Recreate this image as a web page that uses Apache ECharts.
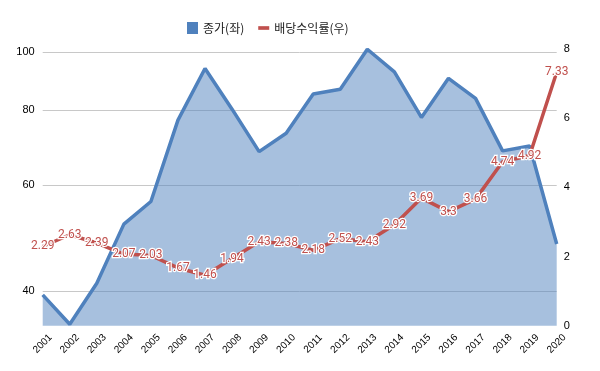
<!DOCTYPE html>
<html><head><meta charset="utf-8">
<script src="https://cdn.jsdelivr.net/npm/echarts@6/dist/echarts.min.js"></script>
<style>html,body{margin:0;padding:0;background:#fff}#c{width:600px;height:371px}</style>
</head><body><div id="c"></div>
<script>
var years = ['2001','2002','2003','2004','2005','2006','2007','2008','2009','2010','2011','2012','2013','2014','2015','2016','2017','2018','2019','2020'];
var closePrice = [39.4,35.2,41.2,51.7,56.4,77.1,94.0,80.4,68.3,73.3,85.2,86.8,101.2,92.8,77.9,90.5,83.8,68.5,69.8,47.9];
var dividendYield = [2.29,2.63,2.39,2.07,2.03,1.67,1.46,1.94,2.43,2.38,2.18,2.52,2.43,2.92,3.69,3.3,3.66,4.74,4.92,7.33];
var leftTicks = [40,60,80,100];
var seriesNames = ['종가(좌)','배당수익률(우)'];

var chart = echarts.init(document.getElementById('c'));
chart.setOption({
  animation:false,
  textStyle:{fontFamily:'Liberation Sans, Arial, sans-serif'},
  legend:{
    left:182, top:17, itemGap:14, itemWidth:11, itemHeight:12,
    textStyle:{fontFamily:'Noto Sans CJK KR', fontSize:12, color:'#222'},
    data:[{name:seriesNames[0], icon:'rect'},{name:seriesNames[1], icon:'path://M0,0h12v4h-12z'}]
  },
  grid:{left:42.7, right:43.3, top:49, bottom:45.3},
  xAxis:{
    type:'category', data:years, boundaryGap:false,
    axisLine:{show:false}, axisTick:{show:false},
    axisLabel:{rotate:45, fontSize:10, color:'#000', margin:18, interval:0,
      align:'center', verticalAlign:'middle'}
  },
  yAxis:[{
    type:'log', logBase:10, min:35, max:101.3,
    axisLine:{show:false},
    axisTick:{show:false, customValues:leftTicks},
    axisLabel:{customValues:leftTicks, fontSize:11, color:'#000', margin:8},
    splitLine:{show:true, lineStyle:{color:'#c8c8c8', width:1}}
  },{
    type:'value', min:0, max:8, interval:2, position:'right',
    axisLine:{show:false}, axisTick:{show:false},
    axisLabel:{fontSize:11, color:'#000', margin:7},
    splitLine:{show:false}
  }],
  series:[{
    name:seriesNames[0], type:'line', yAxisIndex:0, data:closePrice,
    showSymbol:false, symbol:'none',
    lineStyle:{color:'#4f81bd', width:3.5},
    itemStyle:{color:'#4f81bd'},
    areaStyle:{color:'#4f81bd', opacity:0.5, origin:'start'},
    z:2
  },{
    name:seriesNames[1], type:'line', yAxisIndex:1, data:dividendYield,
    symbol:'circle', symbolSize:2,
    lineStyle:{color:'#c0504d', width:3.5},
    itemStyle:{color:'#c0504d'},
    label:{show:true, position:'inside', color:'#c0504d', fontSize:12,
      fontFamily:'Roboto, sans-serif', textBorderColor:'#fff', textBorderWidth:2.5},
    z:3
  }]
});
</script></body></html>
